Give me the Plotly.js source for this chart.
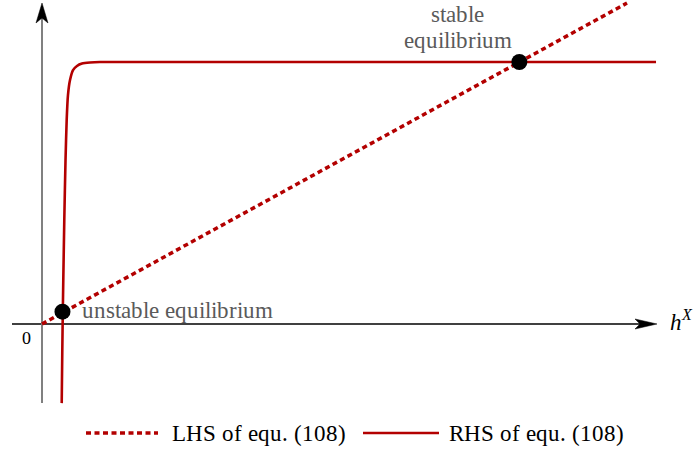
<!DOCTYPE html>
<html>
<head>
<meta charset="utf-8">
<script src="https://cdn.plot.ly/plotly-3.0.1.min.js"></script>
<style>
@font-face { font-family: "LibSerif"; src: local("Liberation Serif"), local("LiberationSerif"), local("Liberation Serif Regular"), local("LiberationSerif-Regular"); font-style: normal; font-weight: 400; }
@font-face { font-family: "LibSerif"; src: local("Liberation Serif Italic"), local("LiberationSerif-Italic"); font-style: italic; font-weight: 400; }
html,body{margin:0;padding:0;background:#fff;}
#chart{width:694px;height:452px;}
</style>
</head>
<body>
<div id="chart"></div>
<script>
// ---- data (h^X in arbitrary units, right-hand side normalised so the plateau = 1) ----
const lhsX = [0, 10.0];
const lhsY = [0, 1.225];

const rhsX = [0.337, 0.347, 0.356, 0.364, 0.381, 0.402, 0.422, 0.444, 0.479, 0.530, 0.598, 0.684, 0.821, 0.991, 10.496];
const rhsY = [-0.302, -0.099, 0.053, 0.168, 0.397, 0.626, 0.779, 0.874, 0.931, 0.969, 0.985, 0.994, 0.998, 1.0, 1.0];

const eqX = [0.35, 8.16];
const eqY = [0.047, 1.0];

const legendLabels = ["LHS of equ. (108)", "RHS of equ. (108)"];
const eqLabels = ["unstable equilibrium", "stable", "equilibrium"];

// ---- layout helpers ----
const W = 694, H = 452;
const RED = "#b30000";
const FONT = "LibSerif";
const px = x => x / W;
const py = y => 1 - y / H;
function path(pts) {
  return pts.map((p, i) => (i ? "L" : "M") + px(p[0]).toFixed(5) + "," + py(p[1]).toFixed(5)).join(" ") + " Z";
}

// axis ranges so that the origin sits at (42,324) px
const xr = [-42 / 58.5, (W - 42) / 58.5];
const yr = [-(H - 324) / 262, 324 / 262];

const traces = [
  { x: lhsX, y: lhsY, mode: "lines", name: legendLabels[0], showlegend: false,
    line: { color: RED, width: 3.5, dash: "5px,3.5px" }, hoverinfo: "skip" },
  { x: rhsX, y: rhsY, mode: "lines", name: legendLabels[1], showlegend: false,
    line: { color: RED, width: 2.6, shape: "spline", smoothing: 0.6 }, hoverinfo: "skip" },
  { x: eqX, y: eqY, mode: "markers", showlegend: false,
    marker: { color: "#000", size: 16 }, hoverinfo: "skip" }
];

const shapes = [
  // x axis
  { type: "line", xref: "paper", yref: "paper", x0: px(12), y0: py(324), x1: px(642), y1: py(324),
    line: { color: "#000", width: 1.3 }, layer: "below" },
  { type: "path", xref: "paper", yref: "paper", path: path([[657, 324], [635, 319], [640, 324], [635, 329]]),
    fillcolor: "#000", line: { color: "#000", width: 0.5 } },
  // y axis
  { type: "line", xref: "paper", yref: "paper", x0: px(42), y0: py(403), x1: px(42), y1: py(18),
    line: { color: "#808080", width: 2 }, layer: "below" },
  { type: "path", xref: "paper", yref: "paper", path: path([[42, 3], [36, 23], [42, 18], [48, 23]]),
    fillcolor: "#000", line: { color: "#000", width: 0.5 } },
  // legend symbols
  { type: "line", xref: "paper", yref: "paper", x0: px(86), y0: py(433), x1: px(158), y1: py(433),
    line: { color: RED, width: 3.5, dash: "5px,3.5px" } },
  { type: "line", xref: "paper", yref: "paper", x0: px(363), y0: py(433), x1: px(439), y1: py(433),
    line: { color: RED, width: 2.6 } }
];

const ann = (text, x, y, xa, size, color) => ({
  text: text, xref: "paper", yref: "paper", x: px(x), y: py(y), xanchor: xa, yanchor: "middle",
  showarrow: false, font: { family: FONT, size: size, color: color }, borderpad: 0
});

const annotations = [
  ann(eqLabels[0], 81, 310, "left", 23, "#5a5a5a"),
  ann(eqLabels[1], 457.5, 14, "center", 23, "#5a5a5a"),
  ann(eqLabels[2], 457.5, 40, "center", 23, "#5a5a5a"),
  ann("0", 26, 338, "center", 18, "#000"),
  ann("<i>h<sup>X</sup></i>", 669, 320, "left", 23, "#000"),
  ann(legendLabels[0], 171, 433, "left", 23, "#000"),
  ann(legendLabels[1], 448, 433, "left", 23, "#000")
];

const layout = {
  width: W, height: H,
  margin: { l: 0, r: 0, t: 0, b: 0 },
  paper_bgcolor: "#fff", plot_bgcolor: "#fff",
  xaxis: { range: xr, visible: false, fixedrange: true },
  yaxis: { range: yr, visible: false, fixedrange: true },
  shapes: shapes,
  annotations: annotations,
  showlegend: false
};

const config = { staticPlot: true, displayModeBar: false };
Plotly.newPlot("chart", traces, layout, config);

// redraw once the local serif faces are ready so the text uses them
if (document.fonts && document.fonts.load) {
  Promise.all([
    document.fonts.load('23px "LibSerif"'),
    document.fonts.load('italic 23px "LibSerif"')
  ]).then(() => Plotly.react("chart", traces, JSON.parse(JSON.stringify(layout)), config))
    .catch(() => {});
}
</script>
</body>
</html>
